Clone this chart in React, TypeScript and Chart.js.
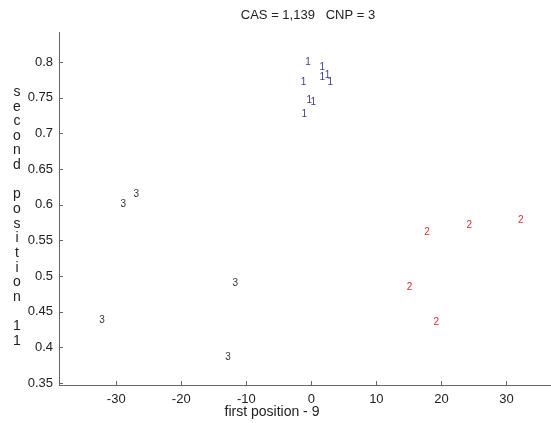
import React, { useEffect, useRef } from "react";
import { Chart, registerables } from "chart.js";

Chart.register(...registerables);

const titleText = "CAS = 1,139   CNP = 3";
const xTitle = "first position - 9";
const yTitle = "second position 11";

const xTicks = [-30, -20, -10, 0, 10, 20, 30];
const yTicks = [0.35, 0.4, 0.45, 0.5, 0.55, 0.6, 0.65, 0.7, 0.75, 0.8];

const cluster1X = [-0.5, 1.7, 1.7, 2.5, 2.9, -1.2, -0.3, 0.3, -1.1];
const cluster1Y = [0.8, 0.792, 0.779, 0.782, 0.771, 0.772, 0.747, 0.744, 0.727];
const cluster2X = [17.8, 24.3, 32.2, 15.1, 19.2];
const cluster2Y = [0.562, 0.571, 0.578, 0.484, 0.435];
const cluster3X = [-26.9, -28.9, -11.7, -32.2, -12.8];
const cluster3Y = [0.615, 0.6, 0.49, 0.438, 0.386];

const labels = ["1", "2", "3"];
const colors = ["#3d3d9a", "#d8302e", "#333333"];

const FONT = "'Liberation Sans', Arial, sans-serif";

const textPointsPlugin = {
  id: "textPoints",
  afterDatasetsDraw(chart: any) {
    const ctx = chart.ctx;
    ctx.save();
    ctx.font = `10px ${FONT}`;
    ctx.textAlign = "center";
    ctx.textBaseline = "middle";
    chart.data.datasets.forEach((ds: any, i: number) => {
      const meta = chart.getDatasetMeta(i);
      ctx.fillStyle = ds.textColor;
      meta.data.forEach((el: any) => {
        ctx.fillText(ds.label, el.x, el.y);
      });
    });
    ctx.restore();
  },
};

const decorPlugin = {
  id: "decor",
  afterDraw(chart: any) {
    const ctx = chart.ctx;
    const xs = chart.scales.x;
    const ys = chart.scales.y;
    const area = chart.chartArea;
    ctx.save();
    // inward ticks
    ctx.strokeStyle = "#666";
    ctx.lineWidth = 1;
    ctx.beginPath();
    xTicks.forEach((v) => {
      const px = Math.round(xs.getPixelForValue(v)) + 0.5;
      ctx.moveTo(px, area.bottom);
      ctx.lineTo(px, area.bottom - 4);
    });
    yTicks.forEach((v) => {
      const py = Math.round(ys.getPixelForValue(v)) + 0.5;
      ctx.moveTo(area.left, py);
      ctx.lineTo(area.left + 4, py);
    });
    ctx.stroke();
    // title
    ctx.fillStyle = "#222";
    ctx.textAlign = "center";
    ctx.textBaseline = "middle";
    ctx.font = `13px ${FONT}`;
    ctx.fillText(titleText, 308, 15);
    // x title
    ctx.font = `14px ${FONT}`;
    ctx.fillText(xTitle, 272, 412);
    // y title stacked
    const chars = yTitle.split("");
    chars.forEach((c, i) => {
      if (c !== " ") ctx.fillText(c, 17, 92 + i * 14.65);
    });
    ctx.restore();
  },
};

export default function App() {
  const ref = useRef<HTMLCanvasElement>(null);
  useEffect(() => {
    document.body.style.margin = "0";
    const mk = (xsArr: number[], ysArr: number[]) =>
      xsArr.map((x, i) => ({ x, y: ysArr[i] }));
    const chart = new Chart(ref.current!, {
      type: "scatter",
      data: {
        datasets: [
          { label: labels[0], data: mk(cluster1X, cluster1Y), pointRadius: 0, textColor: colors[0] } as any,
          { label: labels[1], data: mk(cluster2X, cluster2Y), pointRadius: 0, textColor: colors[1] } as any,
          { label: labels[2], data: mk(cluster3X, cluster3Y), pointRadius: 0, textColor: colors[2] } as any,
        ],
      },
      options: {
        animation: false,
        responsive: false,
        events: [],
        layout: { padding: { top: 32, right: 1, left: 0, bottom: 0 } },
        plugins: { legend: { display: false }, tooltip: { enabled: false }, title: { display: false } },
        scales: {
          x: {
            type: "linear",
            min: -38.8,
            max: 36.7,
            grid: { display: false, drawTicks: false },
            border: { display: true, color: "#666" },
            ticks: {
              padding: 7,
              color: "#222",
              font: { family: FONT, size: 13 },
            },
            afterBuildTicks: (s: any) => {
              s.ticks = xTicks.map((v) => ({ value: v }));
            },
            afterFit: (s: any) => {
              s.height = 38;
            },
          },
          y: {
            type: "linear",
            min: 0.3472,
            max: 0.842,
            grid: { display: false, drawTicks: false },
            border: { display: true, color: "#666" },
            ticks: {
              padding: 6,
              color: "#222",
              font: { family: FONT, size: 13 },
              callback: (v: any) => String(Math.round(Number(v) * 100) / 100),
            },
            afterBuildTicks: (s: any) => {
              s.ticks = yTicks.map((v) => ({ value: v }));
            },
            afterFit: (s: any) => {
              s.width = 59;
            },
          },
        },
      } as any,
      plugins: [textPointsPlugin, decorPlugin],
    });
    return () => chart.destroy();
  }, []);
  return <canvas ref={ref} width={551} height={423} style={{ display: "block" }} />;
}
